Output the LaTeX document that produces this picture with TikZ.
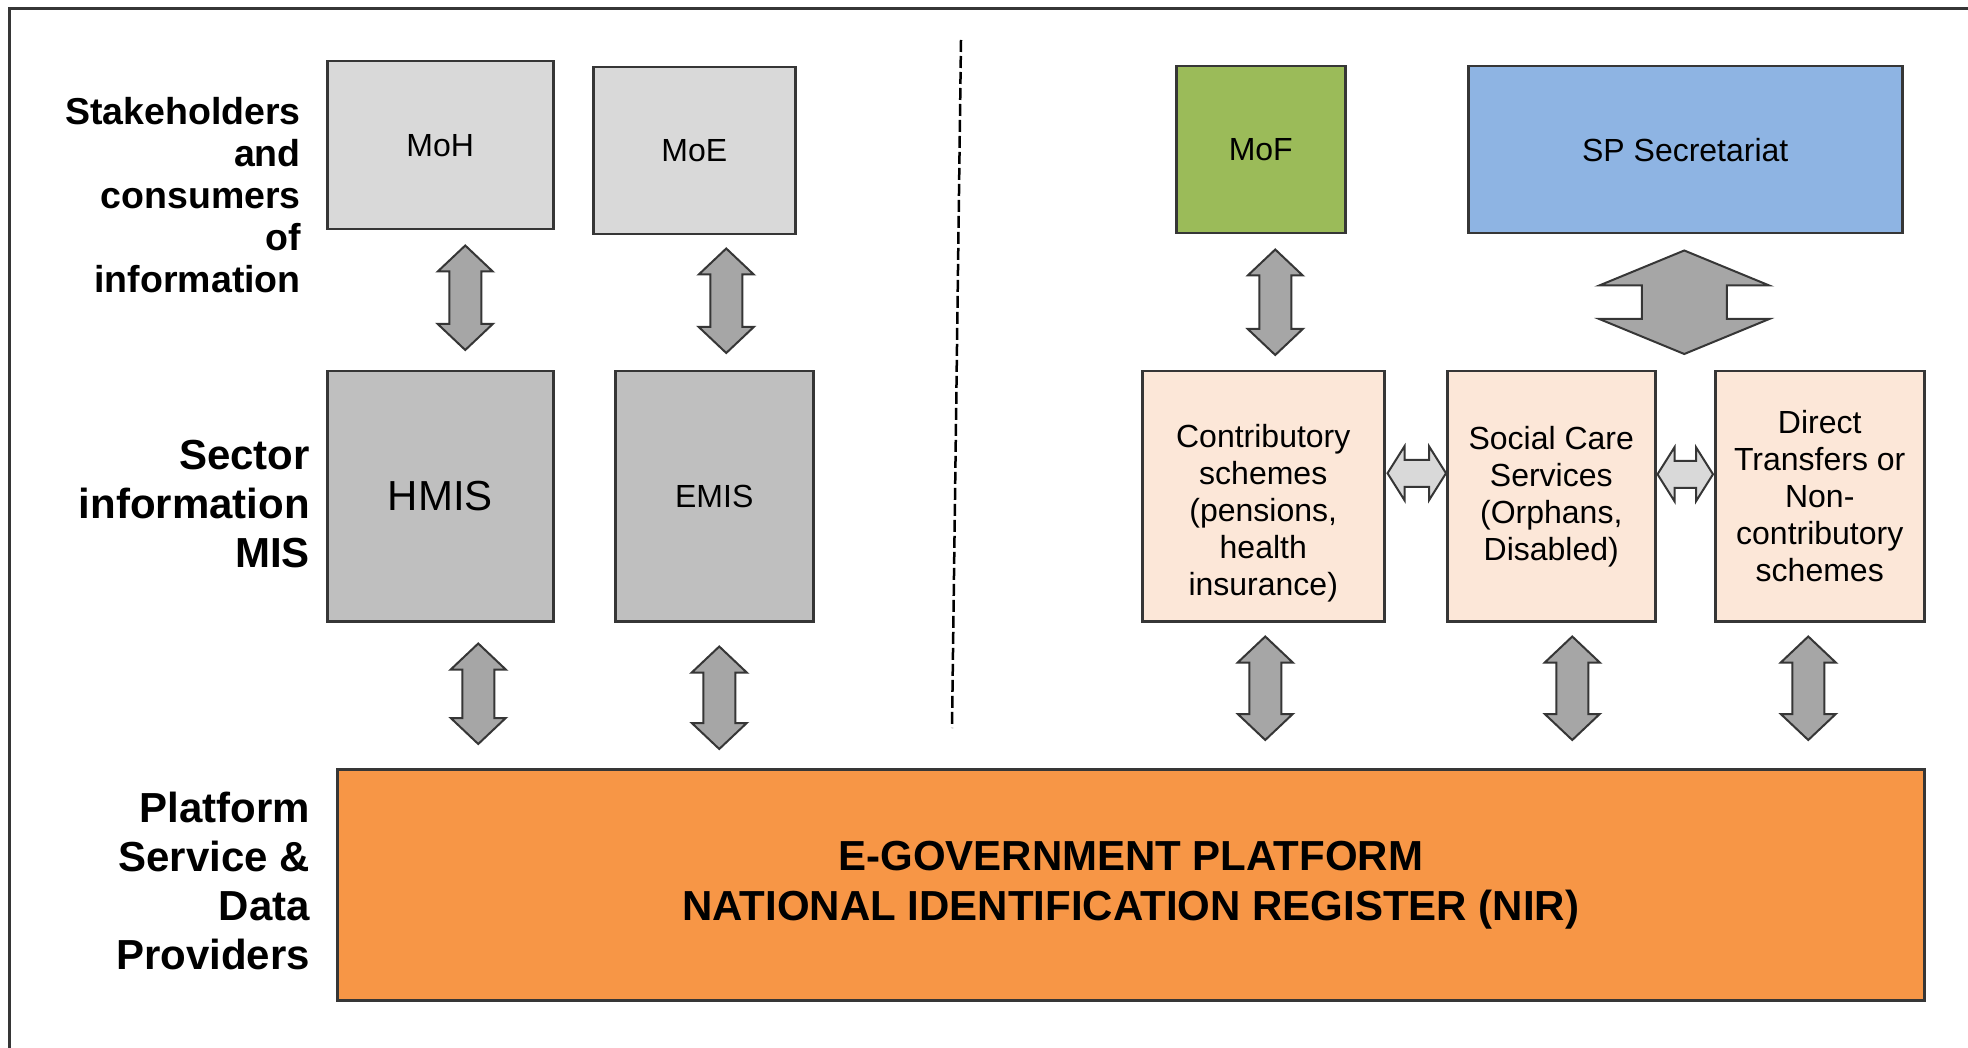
\documentclass[tikz,border=0pt]{standalone}
\usepackage{fontspec}
\setmainfont{Liberation Sans}
\usepackage{xcolor}
\usetikzlibrary{positioning, calc}

\definecolor{boxline}{HTML}{363636}
\definecolor{lightgrey}{HTML}{D9D9D9}
\definecolor{midgrey}{HTML}{BFBFBF}
\definecolor{arrowfill}{HTML}{A6A6A6}
\definecolor{mofgreen}{HTML}{9BBB59}
\definecolor{spblue}{HTML}{8EB4E3}
\definecolor{peach}{HTML}{FCE7D8}
\definecolor{niorange}{HTML}{F79646}

\tikzset{
  box/.style={draw=boxline, line width=2.5pt, inner sep=0pt, anchor=north west,
    align=center, font=\fontsize{32}{37}\selectfont},
  ministry/.style={box, fill=lightgrey},
  sectormis/.style={box, fill=midgrey},
  scheme/.style={box, fill=peach},
  rowlabel/.style={anchor=east, align=right, inner sep=0pt},
  blockarrow/.style={draw=boxline, line width=2pt, fill=arrowfill, line join=miter},
  flatarrow/.style={blockarrow, fill=lightgrey},
}

% top tip, bottom tip, head half width, shaft half width, head length
\newcommand{\vdarrow}[6][blockarrow]{%
  \filldraw[#1] let \p1=#2, \p2=#3 in
    (\x1,\y1) -- (\x1+#4pt,\y1-#6pt) -- (\x1+#5pt,\y1-#6pt)
    -- (\x1+#5pt,\y2+#6pt) -- (\x1+#4pt,\y2+#6pt) -- (\x1,\y2)
    -- (\x1-#4pt,\y2+#6pt) -- (\x1-#5pt,\y2+#6pt)
    -- (\x1-#5pt,\y1-#6pt) -- (\x1-#4pt,\y1-#6pt) -- cycle;}
% left tip, right tip, head half width, shaft half width, head length
\newcommand{\hdarrow}[6][flatarrow]{%
  \filldraw[#1] let \p1=#2, \p2=#3 in
    (\x1,\y1) -- (\x1+#6pt,\y1+#4pt) -- (\x1+#6pt,\y1+#5pt)
    -- (\x2-#6pt,\y1+#5pt) -- (\x2-#6pt,\y1+#4pt) -- (\x2,\y1)
    -- (\x2-#6pt,\y1-#4pt) -- (\x2-#6pt,\y1-#5pt)
    -- (\x1+#6pt,\y1-#5pt) -- (\x1+#6pt,\y1-#4pt) -- cycle;}

\begin{document}
\begin{tikzpicture}[x=1pt, y=-1pt]
  \useasboundingbox (0,0) rectangle (1968,1048);
  \draw[boxline, line width=3pt] (1968,9) -- (9,9) -- (9,1048);

  \node[rowlabel, font=\bfseries\fontsize{37.5}{42}\selectfont] (stake) at (301,195)
    {Stakeholders\\and\\consumers\\of\\information};
  \node[rowlabel, font=\bfseries\fontsize{42}{49}\selectfont] (sector) at (310,504)
    {Sector\\information\\MIS};
  \node[rowlabel, font=\bfseries\fontsize{42}{49}\selectfont] (platform) at (310,881)
    {Platform\\Service \&\\Data\\Providers};

  \node[ministry, minimum width=226, minimum height=168] (moh) at (326,60) {MoH};
  \node[ministry, minimum width=202, minimum height=167] (moe) at (592,66) {MoE};
  \node[sectormis, minimum width=226, minimum height=250, font=\fontsize{42}{48}\selectfont] (hmis) at (326,370) {HMIS};
  \node[sectormis, minimum width=198, minimum height=250] (emis) at (614,370) {EMIS};

  \node[box, fill=mofgreen, minimum width=169, minimum height=167] (mof) at (1175,65) {MoF};
  \node[box, fill=spblue, minimum width=434, minimum height=167] (sps) at (1467,65) {SP Secretariat};
  \node[scheme, minimum width=242, minimum height=250,
    label={[font=\fontsize{32}{37}\selectfont, align=center, yshift=-17pt]center:Contributory\\schemes\\(pensions,\\health\\insurance)}]
    (contrib) at (1141,370) {};
  \node[scheme, minimum width=208, minimum height=250] (social) at (1446,370)
    {Social Care\\Services\\(Orphans,\\Disabled)};
  \node[scheme, minimum width=209, minimum height=250] (direct) at (1714,370)
    {Direct\\Transfers or\\Non-\\contributory\\schemes};

  \node[box, fill=niorange, minimum width=1587, minimum height=231,
    font=\bfseries\fontsize{42}{50}\selectfont] (nir) at (336,768)
    {E-GOVERNMENT PLATFORM\\NATIONAL IDENTIFICATION REGISTER (NIR)};

  \coordinate (divtop) at (961,40);
  \coordinate (divbot) at (952,728);
  \draw[black, line width=2.5pt, dash pattern=on 12pt off 4pt] (divtop) -- (divbot);

  \vdarrow{($(moh.south)+(25,15)$)}{($(hmis.north)+(25,-20)$)}{27.5}{16}{26}
  \vdarrow{($(moe.south)+(32,13)$)}{($(emis.north)+(12,-17)$)}{27.5}{16}{26}
  \vdarrow{($(hmis.south)+(38,21)$)}{($(hmis.south |- nir.north)+(38,-24)$)}{27.5}{16}{26}
  \vdarrow{($(emis.south)+(5,24)$)}{($(emis.south |- nir.north)+(5,-19)$)}{27.5}{16}{26}
  \vdarrow{($(mof.south)+(14.5,15)$)}{($(contrib.north)+(12,-15)$)}{27.5}{16}{26}
  \vdarrow{($(sps.south)+(-1,16)$)}{($(sps.south |- social.north)+(-1,-16)$)}{85}{42.5}{35}
  \vdarrow{($(contrib.south)+(2,14)$)}{($(contrib.south |- nir.north)+(2,-28)$)}{27.5}{16}{26}
  \vdarrow{($(social.south)+(21,14)$)}{($(social.south |- nir.north)+(21,-28)$)}{27.5}{16}{26}
  \vdarrow{($(direct.south)+(-11.5,14)$)}{($(direct.south |- nir.north)+(-11.5,-28)$)}{27.5}{16}{26}

  \hdarrow{($(contrib.east)+(2,-23)$)}{($(social.west)+(0,-23)$)}{27}{13.5}{17}
  \hdarrow{($(social.east)+(1,-22)$)}{($(direct.west)+(-1,-22)$)}{27}{13.5}{17}
\end{tikzpicture}
\end{document}
